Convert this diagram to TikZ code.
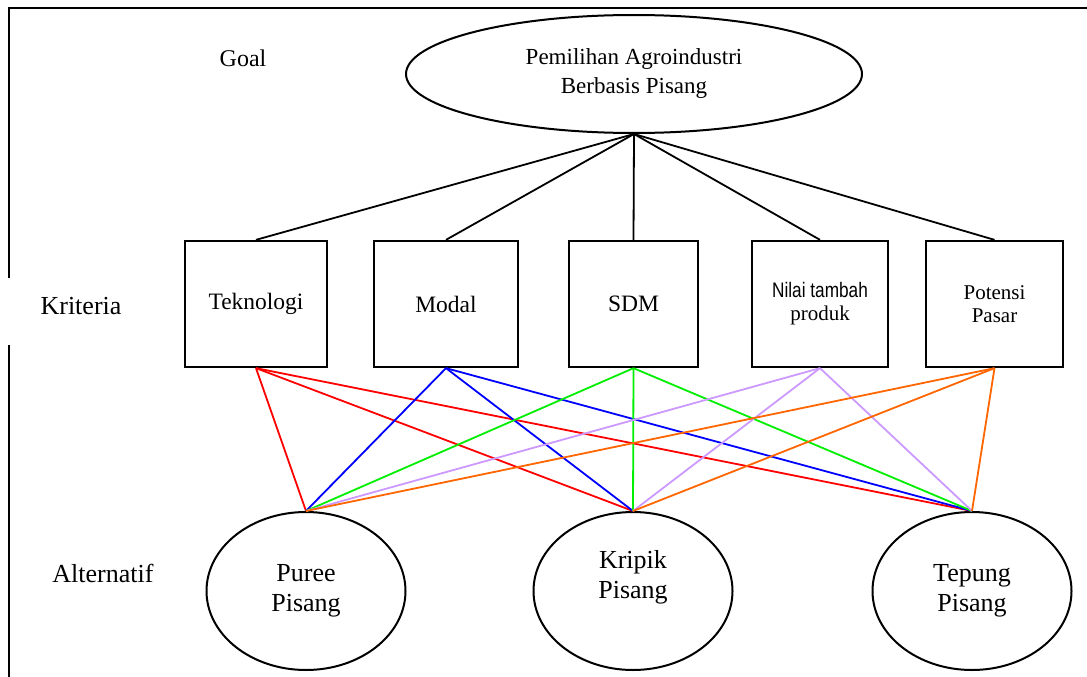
\documentclass[tikz,border=0pt]{standalone}
\usepackage{fontspec}
\setmainfont{Liberation Serif}
\newfontfamily\narrowsf[FakeStretch=0.82]{Liberation Sans}
\usetikzlibrary{shapes.geometric}
\definecolor{lilac}{HTML}{CC99FF}
\definecolor{orangeline}{HTML}{FF6600}
\definecolor{greenline}{HTML}{00EE00}

\begin{document}
\begin{tikzpicture}[x=1pt,y=-1pt,
 lbl/.style={font=\fontsize{26}{30}\selectfont},
 krit/.style={draw,line width=2.3pt,minimum height=126pt,inner sep=0pt,align=center,font=\fontsize{23.5}{28}\selectfont},
 alt/.style={draw,ellipse,line width=2pt,minimum width=199pt,minimum height=158pt,inner sep=0pt,align=center,font=\fontsize{26}{30}\selectfont},
 link/.style={line width=1.8pt}]
\useasboundingbox (0,0) rectangle (1087,677);
\draw[line width=2.2pt] (1087,8)--(9,8)--(9,278);
\draw[line width=2.2pt] (9,345)--(9,677);

\node[font=\fontsize{24}{28}\selectfont] (goallbl) at (243,58) {Goal};
\node[lbl] (kritlbl) at (81,306) {Kriteria};
\node[lbl] (altlbl) at (103,573) {Alternatif};

\node[draw,ellipse,line width=2pt,minimum width=456pt,minimum height=118pt,inner sep=0pt,align=center,font=\fontsize{23}{29}\selectfont] (goal) at (634,74) {Pemilihan Agroindustri\\Berbasis Pisang};

\node[krit,minimum width=142pt] (tek) at (256,304) {Teknologi};
\node[krit,minimum width=144pt] (mod) at (446,304) {Modal};
\node[krit,minimum width=129pt] (sdm) at (633.5,304) {SDM};
\node[krit,minimum width=136pt,font=\fontsize{21}{23}\selectfont] (nil) at (820,304) {{\narrowsf Nilai tambah}\\produk};
\node[krit,minimum width=137pt,font=\fontsize{21}{23}\selectfont] (pot) at (994.5,304) {Potensi\\Pasar};

\foreach \k in {tek,mod,sdm,nil,pot}
\draw[link] (goal.south)--(\k.north);

\node[alt] (pur) at (306,591) {Puree\\Pisang};
\node[alt] (kri) at (633,591) {};
\node[align=center,font=\fontsize{26}{30}\selectfont] (kritext) at (633,577) {Kripik\\Pisang};
\node[alt] (tep) at (972,591) {Tepung\\Pisang};

\foreach \k/\c in {tek/red,mod/blue,sdm/greenline,nil/lilac,pot/orangeline}
\foreach \a in {pur,kri,tep}
\draw[link,\c] (\k.south)--(\a.north);

\end{tikzpicture}
\end{document}
